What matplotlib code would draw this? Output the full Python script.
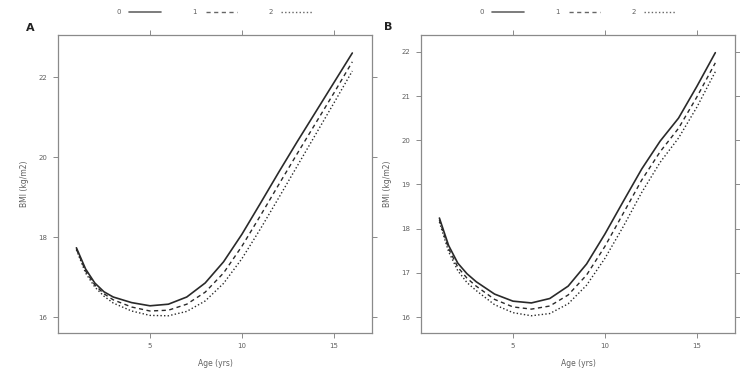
import matplotlib
matplotlib.use("Agg")
import matplotlib.pyplot as plt

# ---------------- data ----------------
ages = [1, 1.5, 2, 2.5, 3, 4, 5, 6, 7, 8, 9, 10, 11, 12, 13, 14, 15, 16]

a_group0 = [17.73, 17.20, 16.85, 16.63, 16.50, 16.36, 16.28, 16.32, 16.50, 16.85,
            17.38, 18.07, 18.84, 19.62, 20.38, 21.12, 21.86, 22.60]
a_group1 = [17.70, 17.15, 16.80, 16.58, 16.43, 16.25, 16.15, 16.17, 16.32, 16.62,
            17.10, 17.77, 18.53, 19.31, 20.08, 20.84, 21.60, 22.38]
a_group2 = [17.68, 17.10, 16.75, 16.52, 16.35, 16.15, 16.04, 16.03, 16.14, 16.40,
            16.84, 17.46, 18.20, 18.98, 19.77, 20.56, 21.35, 22.15]

b_group0 = [18.24, 17.62, 17.22, 16.98, 16.80, 16.52, 16.36, 16.32, 16.42, 16.70,
            17.20, 17.88, 18.62, 19.35, 19.98, 20.50, 21.22, 21.98]
b_group1 = [18.20, 17.55, 17.13, 16.88, 16.70, 16.40, 16.23, 16.18, 16.25, 16.50,
            16.95, 17.60, 18.35, 19.10, 19.74, 20.27, 20.98, 21.75]
b_group2 = [18.15, 17.48, 17.05, 16.78, 16.60, 16.28, 16.10, 16.03, 16.08, 16.30,
            16.72, 17.33, 18.05, 18.82, 19.50, 20.05, 20.75, 21.55]

group_labels = ["0", "1", "2"]
x_ticks = [5, 10, 15]
a_y_ticks = [16, 18, 20, 22]
b_y_ticks = [16, 17, 18, 19, 20, 21, 22]
panel_letters = ["A", "B"]
x_label = "Age (yrs)"
y_label = "BMI (kg/m2)"

# ---------------- styling ----------------
axis_col = "#8a8a8a"
text_col = "#606060"
line_col = "#2a2a2a"
styles = ["-", (0, (3, 2.5)), (0, (1, 1.6))]
widths = [1.2, 1.0, 1.0]

fig = plt.figure(figsize=(7.4, 3.71), dpi=100)
W, H = 740, 371


def axes_rect(l, r, t, b):
    return [l / W, 1 - b / H, (r - l) / W, (b - t) / H]


ax_a = fig.add_axes(axes_rect(58, 372, 35, 333))
ax_b = fig.add_axes(axes_rect(421, 735, 35, 333))

panels = [
    (ax_a, [a_group0, a_group1, a_group2], a_y_ticks, (15.6, 23.05)),
    (ax_b, [b_group0, b_group1, b_group2], b_y_ticks, (15.64, 22.38)),
]

for ax, series, yt, ylim in panels:
    handles = []
    for vals, ls, lw, lab in zip(series, styles, widths, group_labels):
        h, = ax.plot(ages, vals, color=line_col, linestyle=ls, linewidth=lw,
                     label=lab, solid_capstyle="round", solid_joinstyle="round")
        handles.append(h)
    ax.set_xlim(0, 17.07)
    ax.set_ylim(*ylim)
    ax.set_xticks(x_ticks)
    ax.set_yticks(yt)
    ax.tick_params(axis="both", which="both", direction="out", length=3.5,
                   width=0.7, color=axis_col, labelcolor=text_col,
                   labelsize=5, pad=4, top=True, right=True)
    for sp in ax.spines.values():
        sp.set_color(axis_col)
        sp.set_linewidth(0.9)
    ax.set_xlabel(x_label, fontsize=5.5, color=text_col, labelpad=7)
    ax.set_ylabel(y_label, fontsize=5.5, color=text_col, labelpad=7)
    leg = ax.legend(handles=handles, loc="center", bbox_to_anchor=(0.5, 1.077),
                    ncol=3, frameon=False, markerfirst=False, fontsize=5,
                    handlelength=4.6, handletextpad=1.2, columnspacing=4.5)
    for t in leg.get_texts():
        t.set_color(text_col)
    for lh in leg.get_lines():
        lh.set_color("#666666")

fig.text(30 / W, 1 - 28 / H, panel_letters[0], fontsize=8, fontweight="bold",
         color="#222222", ha="center", va="center")
fig.text(388 / W, 1 - 27 / H, panel_letters[1], fontsize=8, fontweight="bold",
         color="#222222", ha="center", va="center")

fig.savefig("out.png", dpi=100, facecolor="white")
